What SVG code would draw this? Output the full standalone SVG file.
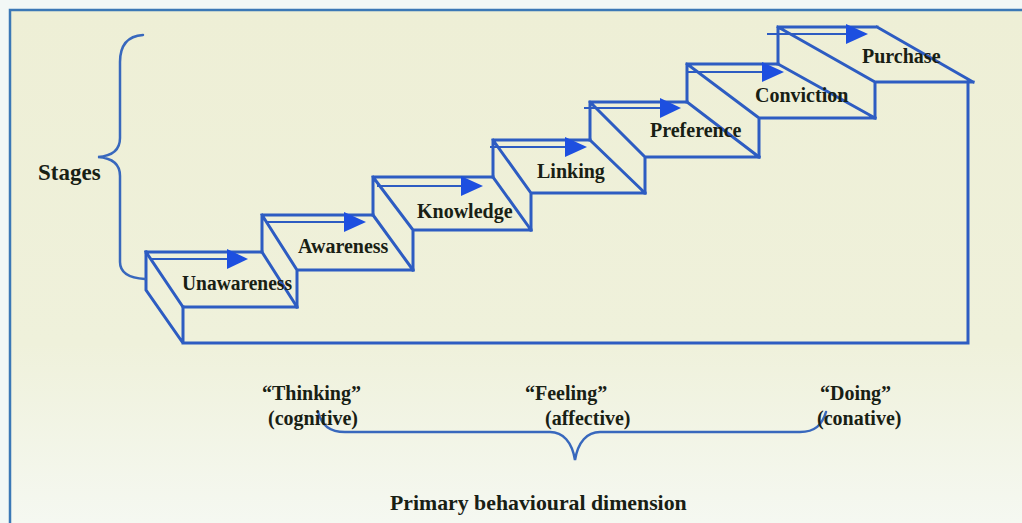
<svg xmlns="http://www.w3.org/2000/svg" width="1022" height="523" viewBox="0 0 1022 523">
<defs>
<linearGradient id="bg" x1="0" y1="0" x2="0" y2="1">
<stop offset="0" stop-color="#eeefd6"/>
<stop offset="0.65" stop-color="#eff1db"/>
<stop offset="1" stop-color="#f5f8f1"/>
</linearGradient>
<style>
.ln{fill:none;stroke:#2d5cc2;stroke-width:3;stroke-linejoin:miter;stroke-linecap:square}
.ar{fill:none;stroke:#2d5cc2;stroke-width:2}
.ah{fill:#1d4fe0}
.br{fill:none;stroke:#3868bd;stroke-width:2.5;stroke-linecap:round}
.lbl{font-family:"Liberation Serif","Times New Roman",serif;font-weight:bold;font-size:20px;fill:#182014}
.big{font-size:23px}
</style>
</defs>
<rect x="0" y="0" width="1022" height="523" fill="#f2f8f6"/>
<rect x="10" y="10" width="1012" height="513" fill="url(#bg)"/>
<path d="M10,523 V10 H1022" fill="none" stroke="#3b78b6" stroke-width="2.5"/>

<g id="base">
<path class="ln" d="M146,252 V290 L183,343 H968 V82 M183,307 V343"/>
</g>

<g id="step-unawareness">
<path class="ln" d="M146,252 H262 M146,252 L183,307 H297 M262,252 L297,307"/>
<path class="ar" d="M150,259 H232"/>
<polygon class="ah" points="248,259 227,249 227,269"/>
<text class="lbl" x="182" y="290" textLength="110" lengthAdjust="spacingAndGlyphs">Unawareness</text>
</g>

<g id="step-awareness">
<path class="ln" d="M262,252 V215 H373 M262,215 L297,270 H413 M373,215 L413,270 M297,307 V270"/>
<path class="ar" d="M266,222 H350"/>
<polygon class="ah" points="366,222 344,212 344,232"/>
<text class="lbl" x="298" y="253">Awareness</text>
</g>

<g id="step-knowledge">
<path class="ln" d="M373,215 V177 H493 M373,177 L413,230 H531 M493,177 L531,230 M413,270 V230"/>
<path class="ar" d="M377,186 H467"/>
<polygon class="ah" points="483,186 461,176 461,196"/>
<text class="lbl" x="417" y="218">Knowledge</text>
</g>

<g id="step-linking">
<path class="ln" d="M493,177 V140 H590 M493,140 L531,193 H645 M590,140 L645,193 M531,230 V193"/>
<path class="ar" d="M490,147 H571"/>
<polygon class="ah" points="587,147 565,137 565,157"/>
<text class="lbl" x="537" y="178">Linking</text>
</g>

<g id="step-preference">
<path class="ln" d="M590,140 V102 H687 M590,102 L645,157 H759 M687,102 L759,157 M645,193 V157"/>
<path class="ar" d="M584,108 H665"/>
<polygon class="ah" points="681,108 660,98 660,118"/>
<text class="lbl" x="650" y="137">Preference</text>
</g>

<g id="step-conviction">
<path class="ln" d="M687,102 V64 H778 M687,64 L759,118 H875 M778,64 L875,118 M759,157 V118"/>
<path class="ar" d="M688,72 H768"/>
<polygon class="ah" points="784,72 762,62 762,82"/>
<text class="lbl" x="755" y="102">Conviction</text>
</g>

<g id="step-purchase">
<path class="ln" d="M778,64 V27 H877 M778,27 L875,82 H973 M877,27 L973,82 M875,118 V82"/>
<path class="ar" d="M767,34 H852"/>
<polygon class="ah" points="868,34 846,24 846,44"/>
<text class="lbl" x="862" y="63">Purchase</text>
</g>

<g id="connectors">
<path class="br" d="M143,35 C128,36 120,45 120,62 V138 C120,150 112,156 98,157 C112,158 120,164 120,176 V262 C120,272 128,278 145,279"/>
<path class="br" d="M318,412 C322,426 330,432 345,432 H550 C563,432 572,442 575,460 C578,442 587,432 600,432 H800 C815,432 822,425 826,412"/>
</g>

<g id="label-stages">
<text class="lbl big" x="38" y="180">Stages</text>
</g>
<g id="label-thinking">
<text class="lbl" x="262" y="400">“Thinking”</text>
<text class="lbl" x="268" y="425">(cognitive)</text>
</g>
<g id="label-feeling">
<text class="lbl" x="525" y="400">“Feeling”</text>
<text class="lbl" x="545" y="425">(affective)</text>
</g>
<g id="label-doing">
<text class="lbl" x="820" y="400">“Doing”</text>
<text class="lbl" x="817" y="425">(conative)</text>
</g>
<g id="label-dimension">
<text class="lbl" x="390" y="510" style="font-size:21.8px">Primary behavioural dimension</text>
</g>
</svg>
